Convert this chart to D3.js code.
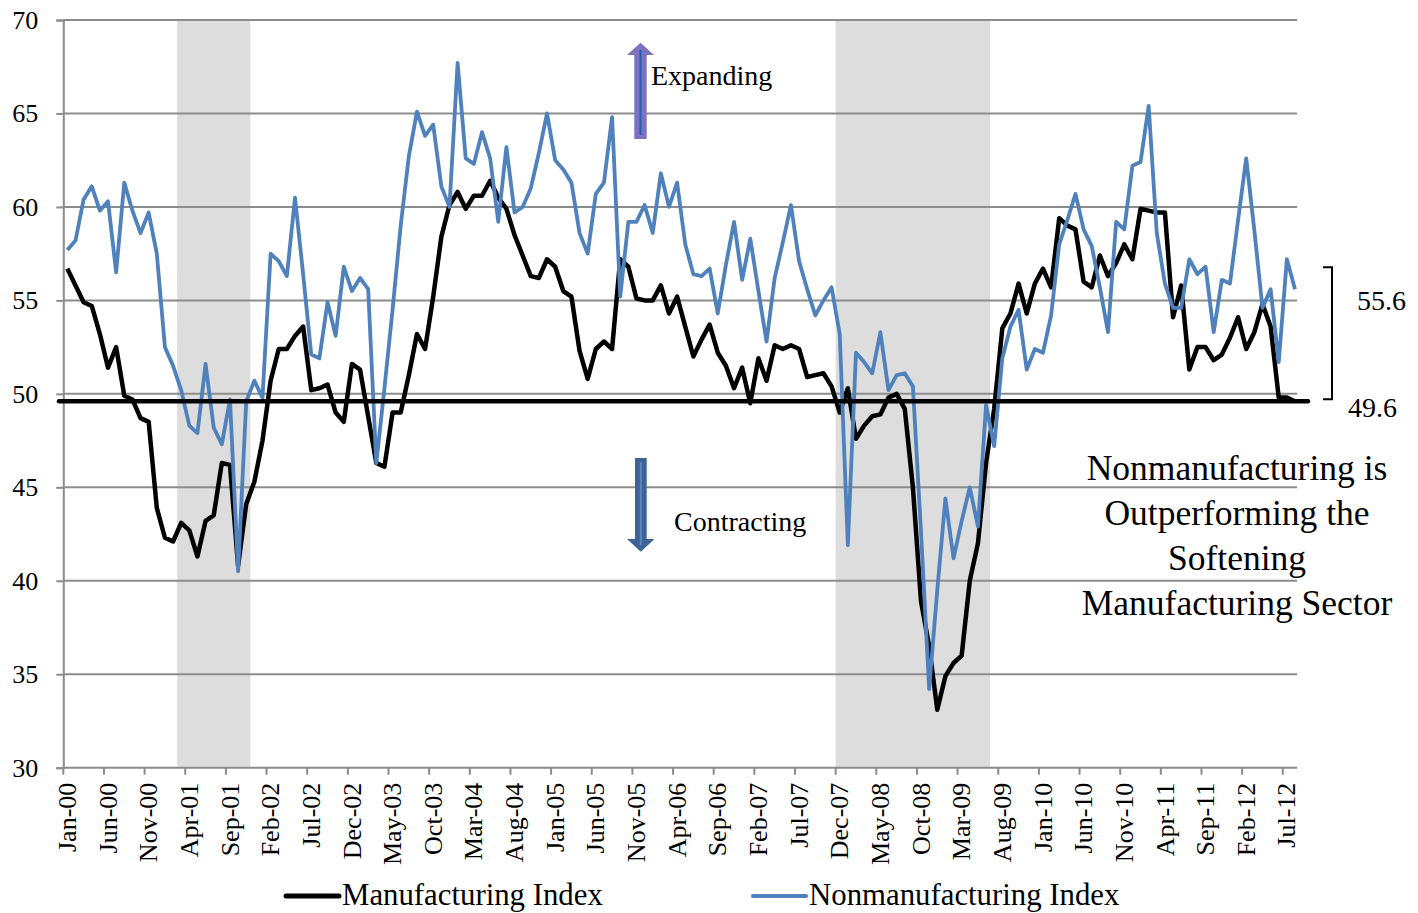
<!DOCTYPE html>
<html lang="en">
<head>
  <meta charset="UTF-8">
  <title>ISM Manufacturing vs Nonmanufacturing</title>
  <style>
    body { margin: 0; background: #fff; }
    text { font-family: "Liberation Serif", "Times New Roman", serif; fill: #000; }
  </style>
</head>
<body>
  <svg></svg>
  <script src="https://cdn.jsdelivr.net/npm/d3@7"></script>
  <script>
    var width = 1418
    var height = 913

    // monthly categories Jan-00 .. Aug-12
    var fmt = d3.timeFormat("%b-%y")
    var months = d3.timeMonth.range(new Date(2000, 0, 1), new Date(2012, 8, 1)).map(fmt)

    var tickLabels = ["Jan-00","Jun-00","Nov-00","Apr-01","Sep-01","Feb-02","Jul-02","Dec-02","May-03","Oct-03",
      "Mar-04","Aug-04","Jan-05","Jun-05","Nov-05","Apr-06","Sep-06","Feb-07","Jul-07","Dec-07","May-08",
      "Oct-08","Mar-09","Aug-09","Jan-10","Jun-10","Nov-10","Apr-11","Sep-11","Feb-12","Jul-12"]

    var manufacturing = [
      56.7,55.8,54.9,54.7,53.2,51.4,52.5,49.9,49.7,48.7,48.5,43.9,
      42.3,42.1,43.1,42.7,41.3,43.2,43.5,46.3,46.2,40.8,44.1,45.3,
      47.5,50.7,52.4,52.4,53.1,53.6,50.2,50.3,50.5,49.0,48.5,51.6,
      51.3,48.8,46.3,46.1,49.0,49.0,51.0,53.2,52.4,55.2,58.4,60.1,
      60.8,59.9,60.6,60.6,61.4,60.5,59.9,58.5,57.4,56.3,56.2,57.2,
      56.8,55.5,55.2,52.3,50.8,52.4,52.8,52.4,57.2,56.8,55.1,55.0,
      55.0,55.8,54.3,55.2,53.6,52.0,52.9,53.7,52.2,51.5,50.3,51.4,
      49.5,51.9,50.7,52.6,52.4,52.6,52.4,50.9,51.0,51.1,50.4,49.0,
      50.3,47.6,48.3,48.8,48.9,49.8,50.0,49.2,45.0,38.9,36.5,33.1,
      34.9,35.6,36.0,40.0,42.0,46.3,49.2,53.5,54.3,55.9,54.3,55.9,
      56.7,55.7,59.4,59.0,58.8,56.0,55.7,57.4,56.3,57.0,58.0,57.2,
      59.9,59.8,59.7,59.7,54.1,55.8,51.3,52.5,52.5,51.8,52.1,53.0,
      54.1,52.4,53.3,54.8,53.6,49.8,49.8,49.6]

    var nonmanufacturing = [
      57.7,58.2,60.4,61.1,59.8,60.3,56.5,61.3,59.8,58.6,59.7,57.5,
      52.5,51.5,50.2,48.3,47.9,51.6,48.2,47.3,49.7,40.5,49.6,50.7,
      49.8,57.5,57.1,56.3,60.5,56.4,52.1,51.9,54.9,53.1,56.8,55.5,
      56.2,55.6,46.3,50.3,54.5,59.0,62.7,65.1,63.8,64.4,61.1,60.0,
      67.7,62.6,62.3,64.0,62.6,59.2,63.2,59.7,60.0,61.0,62.9,65.0,
      62.5,62.0,61.3,58.6,57.5,60.7,61.3,64.8,55.2,59.2,59.2,60.1,
      58.6,61.8,60.0,61.3,58.0,56.4,56.3,56.7,54.3,56.9,59.2,56.1,
      58.3,55.5,52.8,56.2,58.1,60.1,57.1,55.6,54.2,55.0,55.7,53.2,
      41.9,52.2,51.7,51.1,53.3,50.2,51.0,51.1,50.4,42.6,34.2,39.5,
      44.4,41.2,43.2,45.0,42.9,49.4,47.2,51.9,53.6,54.5,51.3,52.4,
      52.2,54.2,58.0,59.3,60.7,58.8,57.9,55.7,53.3,59.2,58.8,62.2,
      62.4,65.4,58.6,55.9,54.6,54.6,57.2,56.4,56.8,53.3,56.1,55.9,
      59.3,62.6,58.75,54.6,55.6,51.7,57.2,55.6]

    var recessions = [["Mar-01", "Nov-01"], ["Dec-07", "Jun-09"]]
    var yTicks = [30, 35, 40, 45, 50, 55, 60, 65, 70]
    var latestMfg = 49.6
    var latestNonMfg = 55.6
    var noteLines = ["Nonmanufacturing is", "Outperforming the", "Softening", "Manufacturing Sector"]

    var x = d3.scaleBand()
      .domain(months)
      .range([63.3, 63.3 + months.length * 8.13])
      .padding(0)
    var y = d3.scaleLinear()
      .domain([30, 70])
      .range([767.7, 20])
    var cx = d => x(d) + x.bandwidth() / 2

    var svg = d3.select("svg")
      .attr("width", width)
      .attr("height", height)

    // recession shading
    svg.selectAll("rect.rec")
      .data(recessions)
      .join("rect")
      .attr("class", "rec")
      .attr("x", d => x(d[0]))
      .attr("width", d => x(d[1]) + x.bandwidth() - x(d[0]))
      .attr("y", y(70))
      .attr("height", y(30) - y(70))
      .attr("fill", "#dddddd")

    // gridlines
    svg.selectAll("line.grid")
      .data(yTicks)
      .join("line")
      .attr("class", "grid")
      .attr("x1", x.range()[0])
      .attr("x2", x.range()[1] - 2)
      .attr("y1", d => y(d))
      .attr("y2", d => y(d))
      .attr("stroke", "#8c8c8c")
      .attr("stroke-width", 2)

    // y axis
    var yAxis = svg.append("g")
      .attr("transform", `translate(${x.range()[0]}, 0)`)
      .call(d3.axisLeft(y).tickValues(yTicks).tickSize(7).tickPadding(18).tickFormat(d3.format("d")))
    yAxis.select(".domain").attr("stroke", "#8c8c8c").attr("stroke-width", 2)
    yAxis.selectAll(".tick line").attr("stroke", "#8c8c8c").attr("stroke-width", 2)
    yAxis.selectAll(".tick text")
      .attr("font-size", 26)
      .attr("font-family", "Liberation Serif")
      .attr("fill", "#000")

    // x axis: ticks on category boundaries, labels centered on categories
    svg.selectAll("line.xtick")
      .data(tickLabels)
      .join("line")
      .attr("class", "xtick")
      .attr("x1", d => x(d))
      .attr("x2", d => x(d))
      .attr("y1", y(30))
      .attr("y2", y(30) + 7)
      .attr("stroke", "#8c8c8c")
      .attr("stroke-width", 2)
    svg.selectAll("text.xlab")
      .data(tickLabels)
      .join("text")
      .attr("class", "xlab")
      .attr("transform", d => `translate(${cx(d)}, ${y(30) + 15}) rotate(-90)`)
      .attr("text-anchor", "end")
      .attr("dy", "0.33em")
      .attr("font-size", 26)
      .text(d => d)

    // series
    var line = d3.line()
      .x((d, i) => cx(months[i]))
      .y(d => y(d))
    svg.append("path")
      .datum(manufacturing)
      .attr("d", line)
      .attr("fill", "none")
      .attr("stroke", "#000")
      .attr("stroke-width", 4.5)
      .attr("stroke-linejoin", "round")
    svg.append("path")
      .datum(nonmanufacturing)
      .attr("d", line)
      .attr("fill", "none")
      .attr("stroke", "#4f81bd")
      .attr("stroke-width", 3.8)
      .attr("stroke-linejoin", "round")

    // latest manufacturing level line
    svg.append("line")
      .attr("x1", 59)
      .attr("x2", 1308)
      .attr("y1", y(latestMfg))
      .attr("y2", y(latestMfg))
      .attr("stroke", "#000")
      .attr("stroke-width", 4.5)
      .attr("stroke-linecap", "round")

    // bracket between latest values
    svg.append("path")
      .attr("d", `M1323,${y(latestNonMfg) - 22}H1332V${y(latestMfg) - 2}H1323`)
      .attr("fill", "none")
      .attr("stroke", "#000")
      .attr("stroke-width", 2)
    svg.append("text")
      .attr("x", 1357).attr("y", 310)
      .attr("font-size", 28)
      .text(latestNonMfg.toFixed(1))
    svg.append("text")
      .attr("x", 1348).attr("y", 417)
      .attr("font-size", 28)
      .text(latestMfg.toFixed(1))

    // expanding / contracting arrows
    var upArrow = "M634.3,139 V55 H627 L640.5,42.7 L654,55 H646.7 V139 Z"
    svg.append("path").attr("d", upArrow).attr("fill", "#7b72c2")
    svg.append("line")
      .attr("x1", 640.5).attr("x2", 640.5).attr("y1", 50).attr("y2", 135)
      .attr("stroke", "#2a5db0").attr("stroke-width", 2)
    svg.append("text")
      .attr("x", 651).attr("y", 85)
      .attr("font-size", 28)
      .text("Expanding")

    var downArrow = "M635,458 V539 H627 L640.8,551.7 L654.5,539 H646.7 V458 Z"
    svg.append("path").attr("d", downArrow).attr("fill", "#3e6496")
    svg.append("line")
      .attr("x1", 640.8).attr("x2", 640.8).attr("y1", 462).attr("y2", 545)
      .attr("stroke", "#5b88c3").attr("stroke-width", 2)
    svg.append("text")
      .attr("x", 674).attr("y", 531)
      .attr("font-size", 28)
      .text("Contracting")

    // annotation
    svg.append("text")
      .attr("text-anchor", "middle")
      .attr("font-size", 35.5)
      .selectAll("tspan")
      .data(noteLines)
      .join("tspan")
      .attr("x", 1237)
      .attr("y", (d, i) => 480 + i * 45)
      .text(d => d)

    // legend
    var legend = [
      { name: "Manufacturing Index", color: "#000", w: 5, x: 284 },
      { name: "Nonmanufacturing Index", color: "#4f81bd", w: 4, x: 751 }
    ]
    var lg = svg.selectAll("g.legend")
      .data(legend)
      .join("g")
      .attr("class", "legend")
      .attr("transform", d => `translate(${d.x}, 896)`)
    lg.append("line")
      .attr("x1", 2).attr("x2", 55)
      .attr("stroke", d => d.color)
      .attr("stroke-width", d => d.w)
      .attr("stroke-linecap", "round")
    lg.append("text")
      .attr("x", 58).attr("y", 9)
      .attr("font-size", 30.8)
      .text(d => d.name)
  </script>
</body>
</html>
